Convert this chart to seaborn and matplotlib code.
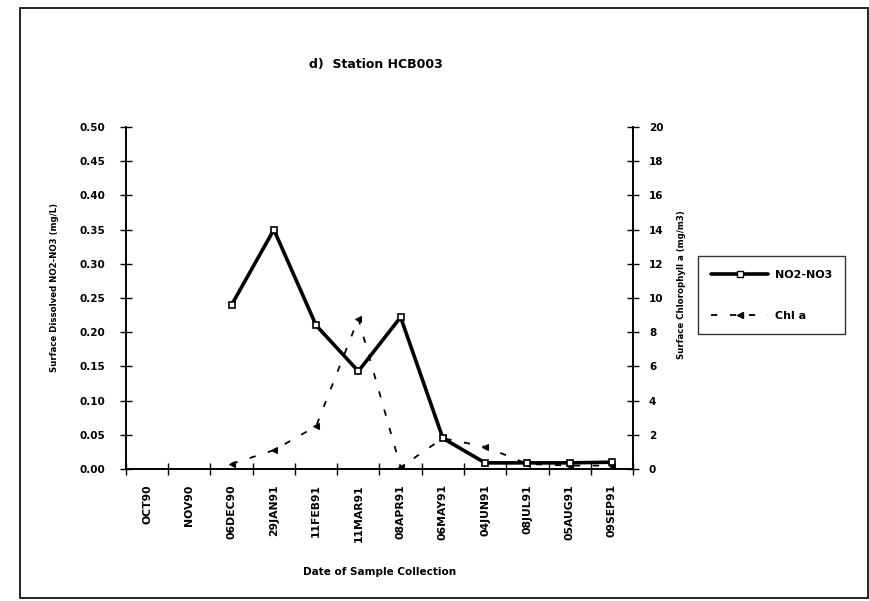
import numpy as np
import pandas as pd
import seaborn as sns
import matplotlib.pyplot as plt
from matplotlib.lines import Line2D
from matplotlib.patches import Rectangle

# Data
dates = ['OCT90', 'NOV90', '06DEC90', '29JAN91', '11FEB91', '11MAR91', '08APR91',
         '06MAY91', '04JUN91', '08JUL91', '05AUG91', '09SEP91']
no2no3 = [np.nan, np.nan, 0.24, 0.35, 0.21, 0.143, 0.222, 0.045, 0.009, 0.009, 0.009, 0.010]
chla = [np.nan, np.nan, 0.3, 1.1, 2.5, 8.8, 0.1, 1.8, 1.3, 0.3, 0.2, 0.2]

df = pd.DataFrame({'pos': np.arange(len(dates)), 'Date': dates,
                   'NO2-NO3': no2no3, 'Chl a': chla})

sns.set_style('ticks')
plt.rcParams['font.family'] = ['DejaVu Sans']
plt.rcParams['font.weight'] = 'bold'
for k in ('text.color', 'axes.labelcolor', 'xtick.color', 'ytick.color', 'axes.edgecolor'):
    plt.rcParams[k] = 'black'

fig = plt.figure(figsize=(8.7, 6.01), dpi=100)
ax = fig.add_axes([0.1448, 0.2196, 0.5828, 0.569])
ax2 = ax.twinx()

sns.lineplot(data=df, x='pos', y='NO2-NO3', ax=ax, color='black', lw=2.6,
             marker='s', markersize=5, markerfacecolor='white',
             markeredgecolor='black', markeredgewidth=1.2, zorder=3)
sns.lineplot(data=df, x='pos', y='Chl a', ax=ax2, color='black', lw=1.3,
             marker='<', markersize=4, markeredgecolor='black', zorder=2)
ax2.lines[0].set_dashes((3.5, 7))

ax.set_zorder(ax2.get_zorder() + 1)
ax.patch.set_visible(False)

n = len(dates)
ax.set_xlim(-0.5, n - 0.5)
ax.set_ylim(0, 0.5)
ax2.set_ylim(0, 20)

# tick marks at category boundaries, labels at centers
ax.set_xticks(np.arange(-0.5, n, 1.0))
ax.set_xticklabels([])
ax.set_xticks(np.arange(n), minor=True)
ax.set_xticklabels(dates, minor=True, rotation=90, fontsize=7.8, fontweight='bold')
ax.tick_params(axis='x', which='minor', length=0, pad=11)
ax.tick_params(axis='x', which='major', direction='inout', length=8, width=1)

yt = np.arange(0, 0.51, 0.05)
ax.set_yticks(yt)
ax.set_yticklabels([f'{v:.2f}' for v in yt], fontsize=7.5, fontweight='bold')
ax.tick_params(axis='y', direction='inout', length=8, width=1, pad=11)
ax2.set_yticks(np.arange(0, 21, 2))
ax2.set_yticklabels([str(v) for v in range(0, 21, 2)], fontsize=7.5, fontweight='bold')
ax2.tick_params(axis='y', direction='inout', length=8, width=1, pad=7.5)

for a in (ax, ax2):
    a.spines['top'].set_visible(False)
    for s in ('left', 'right', 'bottom'):
        a.spines[s].set_linewidth(1.2)
        a.spines[s].set_color('black')

ax.set_xlabel('Date of Sample Collection', fontsize=7.5, fontweight='bold')
ax.xaxis.set_label_coords(0.5, -0.287)
ax.set_ylabel('Surface Dissolved NO2-NO3 (mg/L)', fontsize=6.2, fontweight='bold')
ax.yaxis.set_label_coords(-0.132, 0.53)
ax2.set_ylabel('Surface Chlorophyll a (mg/m3)', fontsize=6.2, fontweight='bold')
ax2.yaxis.set_label_coords(1.087, 0.54)

fig.text(0.432, 0.892, 'd)  Station HCB003', fontsize=9, fontweight='bold',
         ha='center', va='center')

handles = [
    Line2D([], [], color='black', lw=2.6, marker='s', markersize=5,
           markerfacecolor='white', markeredgecolor='black'),
    Line2D([], [], color='black', lw=1.3, marker='<', markersize=4, dashes=(3.5, 7)),
]
leg = fig.legend(handles, ['NO2-NO3', 'Chl a'], loc='center',
                 bbox_to_anchor=(0.887, 0.509), frameon=True, fancybox=False,
                 edgecolor='black', fontsize=8, handlelength=5.1,
                 labelspacing=2.8, borderpad=1.2, handletextpad=0.6)
leg.get_frame().set_linewidth(1.0)
for t in leg.get_texts():
    t.set_fontweight('bold')

# outer frame of the figure
fig.patches.append(Rectangle((0.023, 0.005), 0.975, 0.982, transform=fig.transFigure,
                             fill=False, edgecolor='black', lw=1.2))

fig.savefig('out.png', dpi=100)
